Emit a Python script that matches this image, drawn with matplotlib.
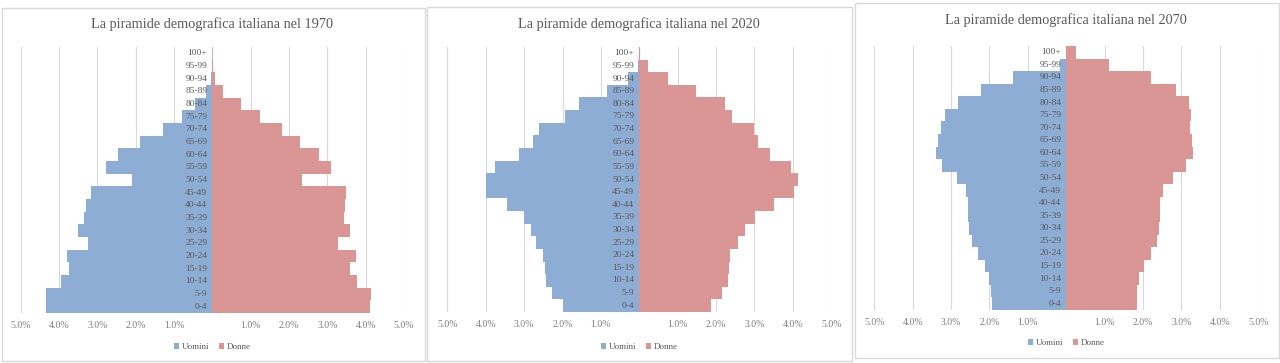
import matplotlib
matplotlib.use("Agg")
import matplotlib.pyplot as plt
import matplotlib.transforms as mtransforms
from matplotlib.patches import Rectangle, Patch
import numpy as np

plt.rcParams['font.family'] = ['Liberation Serif', 'DejaVu Serif']

age_groups = ["0-4", "5-9", "10-14", "15-19", "20-24", "25-29", "30-34", "35-39",
              "40-44", "45-49", "50-54", "55-59", "60-64", "65-69", "70-74",
              "75-79", "80-84", "85-89", "90-94", "95-99", "100+"]

years = ["1970", "2020", "2070"]

# percentages of total population, from 0-4 upward to 100+
men_1970 = [4.35, 4.35, 3.95, 3.73, 3.80, 3.23, 3.50, 3.35, 3.30, 3.17, 2.10,
            2.78, 2.45, 1.89, 1.28, 0.80, 0.45, 0.17, 0.03, 0.01, 0.0]
women_1970 = [4.11, 4.14, 3.78, 3.59, 3.75, 3.27, 3.59, 3.44, 3.46, 3.49, 2.35,
              3.10, 2.77, 2.29, 1.83, 1.25, 0.74, 0.29, 0.07, 0.01, 0.0]

men_2020 = [1.98, 2.27, 2.42, 2.46, 2.52, 2.70, 2.81, 3.01, 3.45, 3.98, 4.00,
            3.77, 3.13, 2.77, 2.61, 1.94, 1.57, 0.83, 0.29, 0.03, 0.0]
women_2020 = [1.87, 2.15, 2.30, 2.34, 2.35, 2.57, 2.76, 3.02, 3.50, 4.04, 4.13,
              3.96, 3.41, 3.08, 3.00, 2.41, 2.23, 1.48, 0.76, 0.22, 0.02]

men_2070 = [1.94, 1.96, 2.00, 2.11, 2.30, 2.46, 2.53, 2.55, 2.57, 2.61, 2.85,
            3.23, 3.40, 3.35, 3.26, 3.16, 2.83, 2.22, 1.39, 0.17, 0.02]
women_2070 = [1.84, 1.85, 1.90, 2.03, 2.21, 2.35, 2.41, 2.43, 2.45, 2.51, 2.77,
              3.12, 3.30, 3.28, 3.21, 3.26, 3.19, 2.86, 2.21, 1.12, 0.26]

men = [men_1970, men_2020, men_2070]
women = [women_1970, women_2020, women_2070]

x_ticks = [-5, -4, -3, -2, -1, 0, 1, 2, 3, 4, 5]

BLUE = '#8EADD5'
RED = '#D99694'
TEXT = '#595959'
TICK = '#7F7F7F'
GRID = '#D9D9D9'

W, H = 1280, 363
fig = plt.figure(figsize=(W / 100, H / 100), dpi=100)

# panel frames (px): left, right, top, bottom
frames = [(2, 425, 8, 361), (427, 852, 7, 361), (855, 1279, 3, 358)]
# axes regions (px): left, right, top, bottom
axes_px = [(20.6, 404.0, 47, 313), (447.3, 831.3, 47, 312), (874.3, 1258.3, 46, 310)]
title_y = [24, 24, 20]
legend_y = [347, 347, 343]

for k in range(3):
    fl, fr, ft, fb = frames[k]
    fig.add_artist(Rectangle((fl / W, 1 - fb / H), (fr - fl) / W, (fb - ft) / H,
                             transform=fig.transFigure, fill=False,
                             edgecolor=GRID, linewidth=1.0, zorder=-5))
    l, r, t, b = axes_px[k]
    ax = fig.add_axes([l / W, 1 - b / H, (r - l) / W, (b - t) / H])
    ax.patch.set_alpha(0)
    ax.set_axisbelow(True)
    y = np.arange(len(age_groups))
    ax.barh(y, -np.array(men[k]), height=1.0, color=BLUE, linewidth=0, zorder=2)
    ax.barh(y, np.array(women[k]), height=1.0, color=RED, linewidth=0, zorder=2)
    ax.set_xlim(-5, 5)
    ax.set_ylim(-0.5, len(age_groups) - 0.5)
    ax.set_xticks(x_ticks)
    ax.set_xticklabels(["" if v == 0 else f"{abs(v):.1f}%" for v in x_ticks],
                       fontsize=7, color=TICK)
    ax.tick_params(axis='x', length=0, pad=6)
    ax.set_yticks([])
    ax.grid(axis='x', color=GRID, linewidth=0.8)
    ax.axvline(0, color='#BFBFBF', linewidth=0.8, zorder=1)
    for s in ax.spines.values():
        s.set_visible(False)
    off = mtransforms.offset_copy(ax.transData, fig=fig, x=-5, y=0, units='dots')
    for i, lab in enumerate(age_groups):
        ax.text(0, i, lab, transform=off, ha='right', va='center',
                fontsize=6.8, color=TEXT, zorder=3)
    fig.text(((l + r) / 2) / W, 1 - title_y[k] / H,
             f"La piramide demografica italiana nel {years[k]}",
             ha='center', va='center', fontsize=10.3, color=TEXT)
    handles = [Patch(facecolor=BLUE, label='Uomini'), Patch(facecolor=RED, label='Donne')]
    ax.legend(handles=handles, loc='center',
              bbox_to_anchor=(0.5, (b - legend_y[k]) / (b - t)),
              ncol=2, frameon=False, fontsize=6.5, labelcolor=TEXT,
              handlelength=0.6, handleheight=0.6, handletextpad=0.3,
              columnspacing=1.0)

fig.savefig("out.png", dpi=100)
